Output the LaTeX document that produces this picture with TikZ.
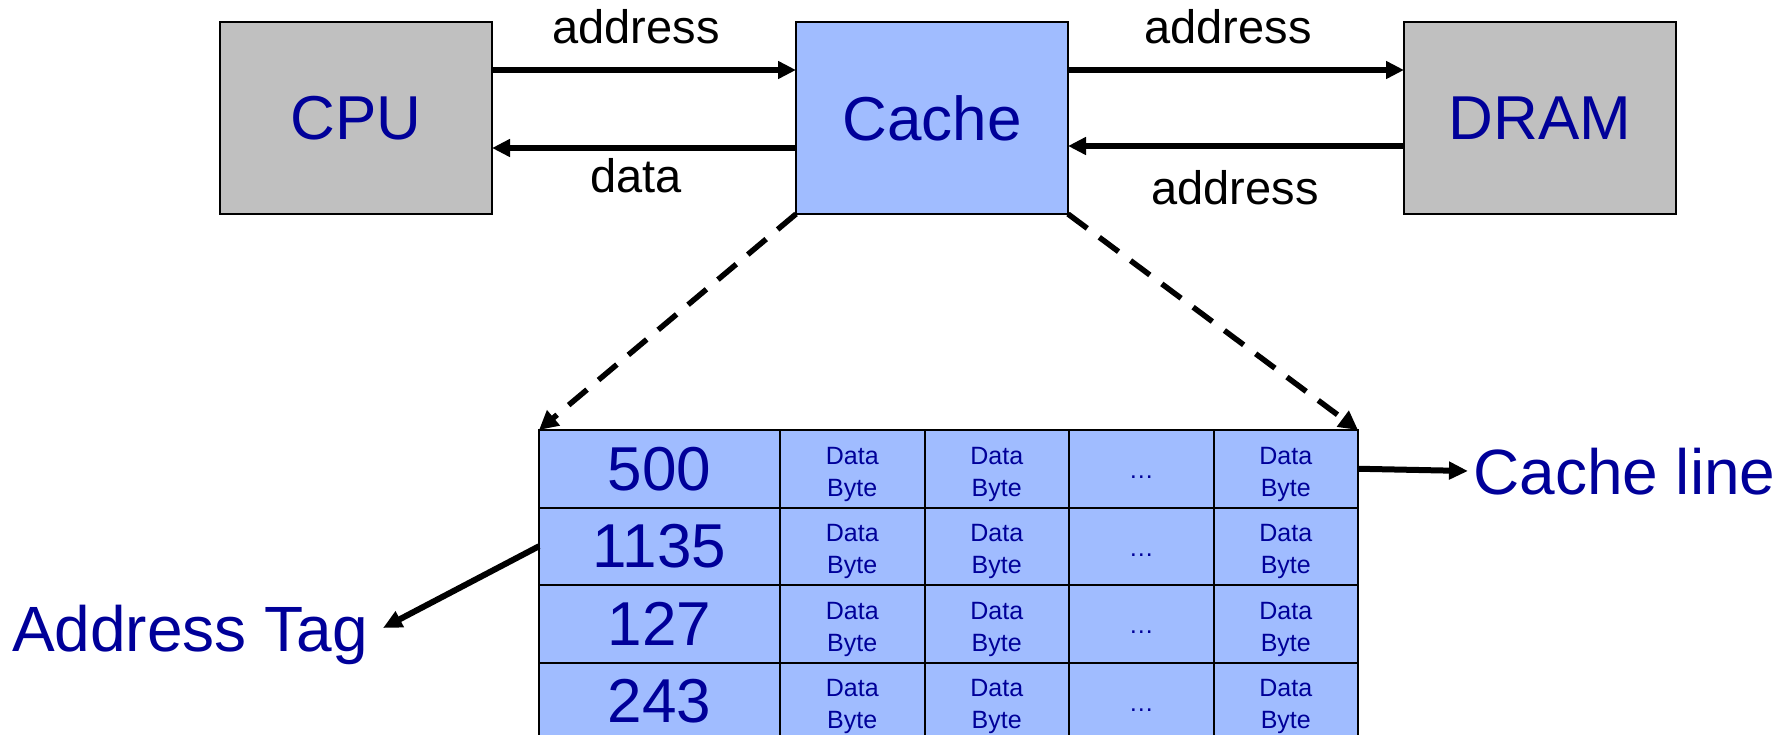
\documentclass[tikz,border=0pt]{standalone}
\usepackage{fontspec}
\setmainfont{Liberation Sans}
\usepackage{xcolor}
\usepackage{tikz}
\usetikzlibrary{arrows.meta, positioning}

\definecolor{unitgray}{RGB}{192,192,192}
\definecolor{cacheblue}{RGB}{160,188,255}
\definecolor{labelnavy}{RGB}{0,0,153}

% two-line cell text, nudged a little below the centre
\newcommand\bytepair{\raisebox{-5pt}[\height][\depth]{\begin{tabular}{@{}c@{}}Data\\Byte\end{tabular}}}

\begin{document}
\begin{tikzpicture}[
    x=1pt, y=-1pt,
    unit/.style={draw=black, line width=2pt, minimum width=272pt, minimum height=192pt, inner sep=0pt, outer sep=0pt, text=labelnavy, font=\fontsize{62}{74}\selectfont},
    cpubox/.style={unit, fill=unitgray},
    cachebox/.style={unit, fill=cacheblue},
    cell/.style={draw=black, line width=2pt, fill=cacheblue, minimum height=77.5pt, inner sep=0pt, outer sep=0pt, text=labelnavy},
    tagcell/.style={cell, minimum width=241pt, font=\fontsize{62}{74}\selectfont},
    bytecell/.style={cell, minimum width=144.5pt, font=\fontsize{25}{32}\selectfont},
    gapcell/.style={bytecell, text height=20pt, text depth=0pt},
    buslabel/.style={anchor=base, font=\fontsize{47}{56}\selectfont},
    callout/.style={text=labelnavy, text depth=0pt, inner ysep=0pt, font=\fontsize{64}{76}\selectfont},
    bus/.style={-{Triangle[length=18pt, width=17pt]}, line width=6pt},
    zoomline/.style={-{Triangle[length=19pt, width=19pt]}, line width=5.5pt, dash pattern=on 24pt off 15pt},
    pointer/.style={-{Triangle[length=19pt, width=17pt]}, line width=6pt}
]

    \useasboundingbox (0,0) rectangle (1791,734);
    \clip (0,0) rectangle (1791,734);

    % Memory hierarchy row.
    \node[cpubox] (cpu) at (356,118) {CPU};
    \node[cachebox] (cache) at (932,118) {Cache};
    \node[cpubox] (dram) at (1540,118) {DRAM};

    \draw[bus] ([yshift=48pt]cpu.east) -- ([yshift=48pt]cache.west);
    \draw[bus] ([yshift=-30pt]cache.west) -- ([yshift=-30pt]cpu.east);
    \draw[bus] ([yshift=48pt]cache.east) -- ([yshift=48pt]dram.west);
    \draw[bus] ([yshift=-28pt]dram.west) -- ([yshift=-28pt]cache.east);
    \node[buslabel] (cpuaddr) at (636,43) {address};
    \node[buslabel] (cpudata) at (636,192) {data};
    \node[buslabel] (dramaddr) at (1228,43) {address};
    \node[buslabel] (dramback) at (1235,204) {address};

    % Cache contents, one line per row.
    \foreach \tagval [count=\r] in {500,1135,127,243} {
        \node[tagcell] (tag\r) at (659.5, 391.25+77.5*\r) {\tagval};
        \node[bytecell, right=0pt of tag\r] (b\r1) {\bytepair};
        \node[bytecell, right=0pt of b\r1] (b\r2) {\bytepair};
        \node[gapcell, right=0pt of b\r2] (b\r3) {\ldots};
        \node[bytecell, right=0pt of b\r3] (b\r4) {\bytepair};
    }

    \draw[zoomline] (cache.south west) -- (tag1.north west);
    \draw[zoomline] (cache.south east) -- (b14.north east);

    \node[callout, anchor=west, inner xsep=5pt] (linelabel) at (1468,471) {Cache line};
    \node[callout, anchor=east, inner xsep=15pt] (taglabel) at (383,628) {Address Tag};
    \draw[pointer] (b14.east) -- (linelabel.west);
    \draw[pointer] (tag2.west) -- (taglabel.east);

\end{tikzpicture}
\end{document}
